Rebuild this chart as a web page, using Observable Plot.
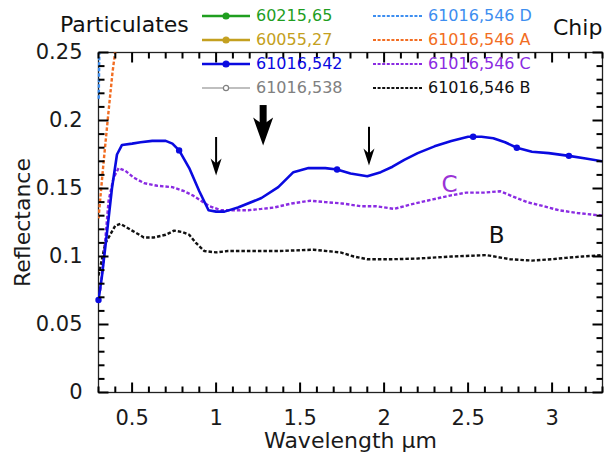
<!DOCTYPE html>
<html>
<head>
<meta charset="utf-8">
<script src="https://cdn.jsdelivr.net/npm/d3@7"></script>
<script src="https://cdn.jsdelivr.net/npm/@observablehq/plot@0.6"></script>
<style>
  html, body { margin: 0; padding: 0; background: #fff; }
  #wrap { position: relative; width: 604px; height: 452px; overflow: hidden; font-family: "DejaVu Sans", sans-serif; }
  #chart { position: absolute; left: 0; top: 0; }
  .ttl { position: absolute; font-size: 22px; color: #111; white-space: nowrap; line-height: 1; }
  .leg { position: absolute; font-size: 16px; white-space: nowrap; line-height: 24px; height: 24px; }
  .sw { position: absolute; }
</style>
</head>
<body>
<div id="wrap"><div id="chart"></div></div>
<script>
// ---------- data (wavelength µm, reflectance) ----------
const s542 = [[0.30,0.068],[0.32,0.085],[0.35,0.117],[0.38,0.150],[0.41,0.175],[0.44,0.182],[0.50,0.183],[0.55,0.184],[0.62,0.185],[0.70,0.185],[0.74,0.183],[0.78,0.178],[0.84,0.165],[0.90,0.148],[0.955,0.134],[1.00,0.133],[1.05,0.133],[1.13,0.136],[1.27,0.143],[1.37,0.151],[1.46,0.162],[1.55,0.165],[1.65,0.165],[1.72,0.164],[1.80,0.161],[1.90,0.159],[1.98,0.162],[2.05,0.166],[2.12,0.171],[2.20,0.176],[2.30,0.181],[2.40,0.185],[2.50,0.188],[2.58,0.188],[2.65,0.187],[2.72,0.184],[2.79,0.180],[2.88,0.177],[2.98,0.176],[3.10,0.174],[3.20,0.172],[3.30,0.170]];
const marks542 = [[0.30,0.068],[0.78,0.178],[1.72,0.164],[2.53,0.188],[2.79,0.180],[3.10,0.174]];
const s546C = [[0.31,0.075],[0.33,0.097],[0.36,0.141],[0.39,0.158],[0.42,0.165],[0.46,0.163],[0.51,0.158],[0.57,0.154],[0.65,0.152],[0.74,0.151],[0.81,0.148],[0.86,0.145],[0.91,0.141],[0.96,0.137],[1.03,0.134],[1.10,0.134],[1.19,0.134],[1.27,0.135],[1.345,0.136],[1.45,0.139],[1.56,0.141],[1.65,0.140],[1.75,0.139],[1.86,0.137],[1.95,0.137],[2.06,0.135],[2.15,0.138],[2.29,0.142],[2.40,0.145],[2.49,0.147],[2.60,0.147],[2.69,0.148],[2.75,0.145],[2.85,0.140],[2.95,0.137],[3.04,0.134],[3.15,0.132],[3.30,0.130]];
const s546B = [[0.30,0.086],[0.34,0.1095],[0.40,0.1227],[0.43,0.124],[0.50,0.119],[0.57,0.114],[0.63,0.114],[0.70,0.116],[0.75,0.119],[0.80,0.118],[0.84,0.116],[0.88,0.110],[0.93,0.104],[1.00,0.103],[1.07,0.104],[1.20,0.104],[1.37,0.104],[1.58,0.105],[1.74,0.103],[1.82,0.100],[1.90,0.098],[2.05,0.098],[2.20,0.0985],[2.40,0.100],[2.61,0.101],[2.75,0.098],[2.88,0.097],[3.00,0.098],[3.08,0.099],[3.18,0.100],[3.30,0.101]];
const s546A = [[0.30,0.128],[0.327,0.165],[0.356,0.202],[0.383,0.235],[0.405,0.256]];
const s546D = [[0.3015,0.216],[0.303,0.232],[0.305,0.25]];

// annotations
const arrowSmallX = [1.0, 1.91], arrowSmallTop = [0.1875, 0.195], arrowSmallTip = [0.1595, 0.167];
const arrowBigX = [1.28], arrowBigTop = [0.211], arrowBigTip = [0.1816];
const labelText = ["C", "B"], labelX = [2.39, 2.67], labelY = [0.153, 0.115], labelColor = ["#9a33d6", "#111"];

// axes
const xDomain = [0.3, 3.3], yDomain = [0, 0.25];
const xMajor = [0.5, 1, 1.5, 2, 2.5, 3];
const xMinor = [0.3,0.4,0.6,0.7,0.8,0.9,1.1,1.2,1.3,1.4,1.6,1.7,1.8,1.9,2.1,2.2,2.3,2.4,2.6,2.7,2.8,2.9,3.1,3.2,3.3];
const yMajor = [0, 0.05, 0.1, 0.15, 0.2, 0.25];
const yMinor = [0.01,0.02,0.03,0.04,0.06,0.07,0.08,0.09,0.11,0.12,0.13,0.14,0.16,0.17,0.18,0.19,0.21,0.22,0.23,0.24];
const xLabel = "Wavelength \u03bcm", yLabel = "Reflectance";

// legend
const legNames = ["60215,65","60055,27","61016,542","61016,538","61016,546 D","61016,546 A","61016,546 C","61016,546 B"];
const legColors = ["#1f9e1f","#c4a020","#0a0ae0","#808080","#3d8ef0","#f26d22","#8a2be2","#111111"];
const legDashed = [false,false,false,false,true,true,true,true];
const legMarker = ["fill","fill","fill","open",null,null,null,null];
const titleLeft = "Particulates", titleRight = "Chip";

const C = {b542: "#0a0ae0", C: "#8a2be2", B: "#111", A: "#f26d22", D: "#3d8ef0"};

const headSmall = { draw(ctx) { ctx.moveTo(0,0); ctx.lineTo(-5.5,-17); ctx.lineTo(0,-12); ctx.lineTo(5.5,-17); ctx.closePath(); } };
const headBig = { draw(ctx) { ctx.moveTo(0,0); ctx.lineTo(-10,-28); ctx.lineTo(0,-21); ctx.lineTo(10,-28); ctx.closePath(); } };

const W = 604, H = 452, MT = 52, MB = 60, ML = 98, MR = 2;
const FW = W - ML - MR, FH = H - MT - MB;
const MAJ = 10, MIN = 6;
const ky = (yDomain[1] - yDomain[0]) / FH, kx = (xDomain[1] - xDomain[0]) / FW;

const pair = a => a.map(([x, y]) => ({x, y}));
const dashed = {strokeWidth: 2.4, strokeDasharray: "3.5 2", strokeLinecap: "butt", strokeLinejoin: "miter"};

// inward tick segments on all four sides (data units of the plot's scales)
const xTicks = (vals, len) => [
  ...vals.map(v => ({x1: v, x2: v, y1: yDomain[0], y2: yDomain[0] + len * ky})),
  ...vals.map(v => ({x1: v, x2: v, y1: yDomain[1], y2: yDomain[1] - len * ky}))
];
const yTicks = (vals, len) => [
  ...vals.map(v => ({y1: v, y2: v, x1: xDomain[0], x2: xDomain[0] + len * kx})),
  ...vals.map(v => ({y1: v, y2: v, x1: xDomain[1], x2: xDomain[1] - len * kx}))
];
const allTicks = [...xTicks(xMajor, MAJ), ...xTicks(xMinor, MIN), ...yTicks(yMajor, MAJ), ...yTicks(yMinor, MIN)];

const plot = Plot.plot({
  width: W, height: H,
  marginTop: MT, marginBottom: MB, marginLeft: ML, marginRight: MR,
  x: {domain: xDomain},
  y: {domain: yDomain},
  style: {fontFamily: "DejaVu Sans", fontSize: "21px", color: "#1a1a1a", background: "white"},
  marks: [
    Plot.frame({stroke: "#222", strokeWidth: 1.3}),
    // spectra
    Plot.line(pair(s546B), {x: "x", y: "y", stroke: C.B, ...dashed, clip: true}),
    Plot.line(pair(s546C), {x: "x", y: "y", stroke: C.C, ...dashed, clip: true}),
    Plot.line(pair(s546A), {x: "x", y: "y", stroke: C.A, ...dashed, clip: true}),
    Plot.line(pair(s546D), {x: "x", y: "y", stroke: C.D, ...dashed}),
    Plot.line(pair(s542), {x: "x", y: "y", stroke: C.b542, strokeWidth: 2.6, clip: true}),
    Plot.dot(pair(marks542), {x: "x", y: "y", r: 3.2, fill: C.b542, stroke: null}),
    // arrows
    Plot.ruleX(arrowSmallX.map((x, i) => ({x, y1: arrowSmallTop[i], y2: arrowSmallTip[i]})), {x: "x", y1: "y1", y2: "y2", stroke: "#000", strokeWidth: 2, insetBottom: 10}),
    Plot.dot(arrowSmallX.map((x, i) => ({x, y: arrowSmallTip[i]})), {x: "x", y: "y", symbol: headSmall, fill: "#000", stroke: null}),
    Plot.ruleX(arrowBigX.map((x, i) => ({x, y1: arrowBigTop[i], y2: arrowBigTip[i]})), {x: "x", y1: "y1", y2: "y2", stroke: "#000", strokeWidth: 7, strokeLinecap: "butt", insetBottom: 20}),
    Plot.dot(arrowBigX.map((x, i) => ({x, y: arrowBigTip[i]})), {x: "x", y: "y", symbol: headBig, fill: "#000", stroke: null}),
    // curve labels
    Plot.text(labelText.map((t, i) => ({t, x: labelX[i], y: labelY[i], c: labelColor[i]})), {x: "x", y: "y", text: "t", fill: "c", fontSize: 23}),
    // inward ticks
    Plot.link(allTicks, {x1: "x1", y1: "y1", x2: "x2", y2: "y2", stroke: "#000", strokeWidth: 2, strokeLinecap: "butt"}),
    // tick labels
    Plot.axisX(xMajor, {anchor: "bottom", tickSize: 0, tickPadding: 18, tickFormat: d => `${d}`, label: null}),
    Plot.axisY(yMajor, {anchor: "left", tickSize: 0, tickPadding: 16, tickFormat: d => `${d}`, label: null}),
    // axis titles
    Plot.text([xLabel], {frameAnchor: "bottom", text: d => d, dy: 40, lineAnchor: "top", fontSize: 22}),
    Plot.text([yLabel], {frameAnchor: "left", text: d => d, dx: -76, rotate: -90, lineAnchor: "middle", textAnchor: "middle", fontSize: 22})
  ]
});
document.getElementById("chart").appendChild(plot);

// ---------- titles and legend (HTML, above the plot area) ----------
const wrap = document.getElementById("wrap");
function addText(cls, txt, left, top, color) {
  const d = document.createElement("div");
  d.className = cls; d.textContent = txt;
  d.style.left = left + "px"; d.style.top = top + "px";
  if (color) d.style.color = color;
  wrap.appendChild(d);
  return d;
}
addText("ttl", titleLeft, 60, 14);
addText("ttl", titleRight, 553, 17);

const rowY = [16, 40, 64, 88];
legNames.forEach((name, i) => {
  const col = i < 4 ? 0 : 1, row = i % 4;
  const lx0 = col ? 373 : 202, lx1 = col ? 423 : 250, tx = col ? 428 : 256;
  const y = rowY[row];
  const svg = d3.create("svg").attr("class", "sw")
    .attr("width", lx1 - lx0 + 8).attr("height", 12)
    .style("left", (lx0 - 4) + "px").style("top", (y - 6) + "px");
  const isGray = legMarker[i] === "open";
  svg.append("line").attr("x1", 4).attr("x2", lx1 - lx0 + 4).attr("y1", 6).attr("y2", 6)
    .attr("stroke", legColors[i]).attr("stroke-width", isGray ? 1.2 : (legDashed[i] ? 2.2 : 2.6))
    .attr("stroke-dasharray", legDashed[i] ? "3,1.6" : null);
  if (legMarker[i]) {
    svg.append("circle").attr("cx", (lx1 - lx0) / 2 + 4).attr("cy", 6).attr("r", isGray ? 2.6 : 3)
      .attr("fill", legMarker[i] === "fill" ? legColors[i] : "#fff")
      .attr("stroke", legColors[i]).attr("stroke-width", 1.2);
  }
  wrap.appendChild(svg.node());
  addText("leg", name, tx, y - 12, legColors[i]);
});
</script>
</body>
</html>
